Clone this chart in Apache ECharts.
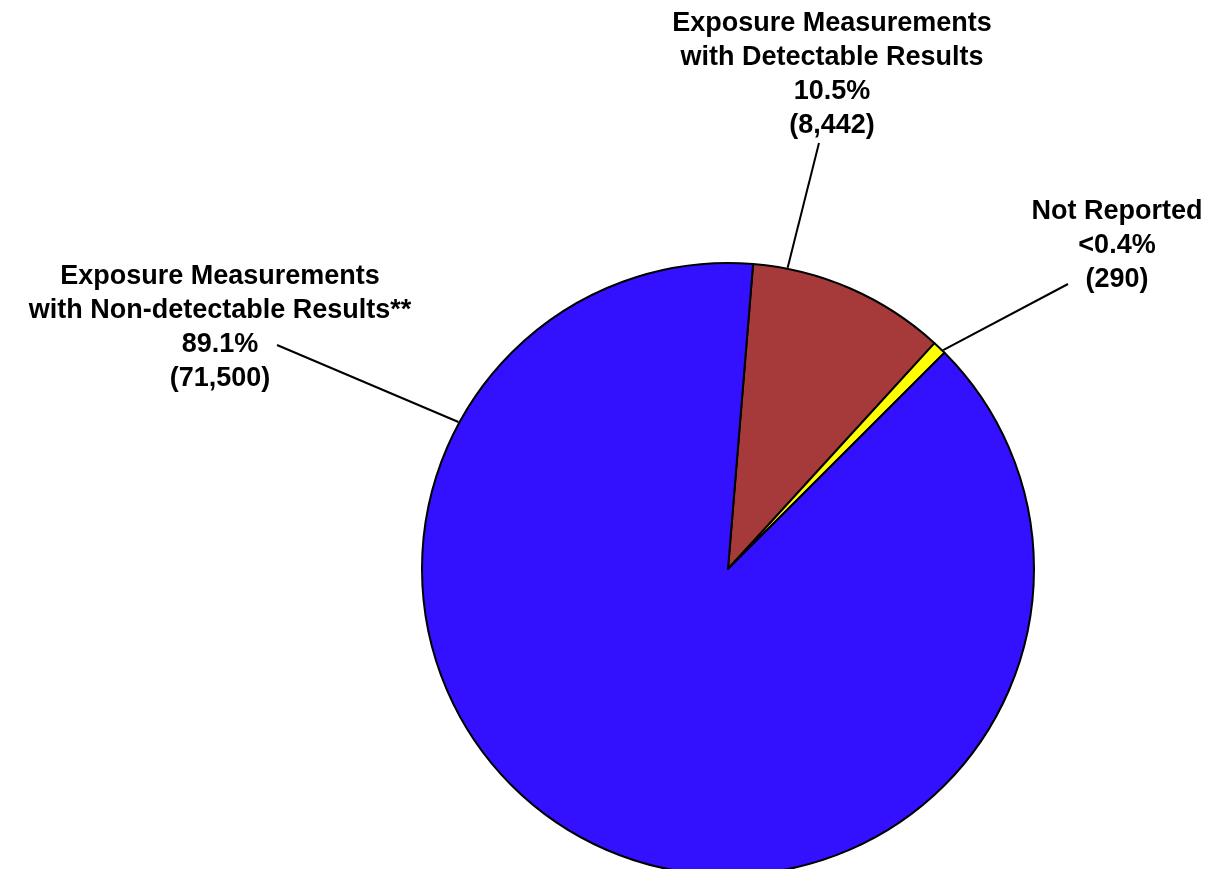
<!DOCTYPE html>
<html>
<head>
<meta charset="utf-8">
<script src="https://cdn.jsdelivr.net/npm/echarts@6/dist/echarts.min.js"></script>
<style>
  html, body { margin: 0; padding: 0; background: #ffffff; }
  #chart { width: 1214px; height: 869px; }
</style>
</head>
<body>
<div id="chart"></div>
<script>
// ---- data ----
const categories = [
  'Exposure Measurements\nwith Detectable Results',
  'Not Reported',
  'Exposure Measurements\nwith Non-detectable Results**'
];
const values = [8442, 290, 71500];
const percentLabels = ['10.5%', '<0.4%', '89.1%'];
const colors = ['#A63A3A', '#FFFF00', '#3311FF'];

// ---- layout (styles, not data) ----
const pieCenter = [728, 569];
const pieRadius = 306;
// label block centres
const labelCenters = [[832, 74.5], [1117, 245.5], [220, 327.5]];
// leader line start offset from label centre, and end angle (deg clockwise from top)
const leaderStart = [[-13, 68.5], [-49, 38.5], [57, 17.5]];
const leaderEndAngle = [11.2, 44.5, 298.6];

function fmt(n) { return n.toLocaleString('en-US'); }

const chart = echarts.init(document.getElementById('chart'));
chart.setOption({
  animation: false,
  backgroundColor: '#ffffff',
  series: [{
    type: 'pie',
    center: pieCenter,
    radius: pieRadius,
    startAngle: 85.3,
    clockwise: true,
    minAngle: 2.6,
    avoidLabelOverlap: false,
    silent: true,
    itemStyle: { borderColor: '#000000', borderWidth: 2 },
    label: {
      show: true,
      position: 'outside',
      color: '#000000',
      fontFamily: '"Liberation Sans", Arial, sans-serif',
      fontWeight: 'bold',
      fontSize: 27,
      lineHeight: 34,
      align: 'center',
      formatter: function (p) {
        return p.name + '\n' + percentLabels[p.dataIndex] + '\n(' + fmt(p.value) + ')';
      }
    },
    labelLine: {
      show: true,
      lineStyle: { color: '#000000', width: 2 }
    },
    labelLayout: function (params) {
      const i = params.dataIndex;
      const c = labelCenters[i];
      const s = [c[0] + leaderStart[i][0], c[1] + leaderStart[i][1]];
      const a = leaderEndAngle[i] * Math.PI / 180;
      const r = pieRadius + 1;
      const e = [pieCenter[0] + r * Math.sin(a), pieCenter[1] - r * Math.cos(a)];
      return {
        x: c[0],
        y: c[1],
        align: 'center',
        verticalAlign: 'middle',
        labelLinePoints: [e, e, s]
      };
    },
    data: categories.map(function (name, i) {
      return { name: name, value: values[i], itemStyle: { color: colors[i] } };
    })
  }]
});
</script>
</body>
</html>
